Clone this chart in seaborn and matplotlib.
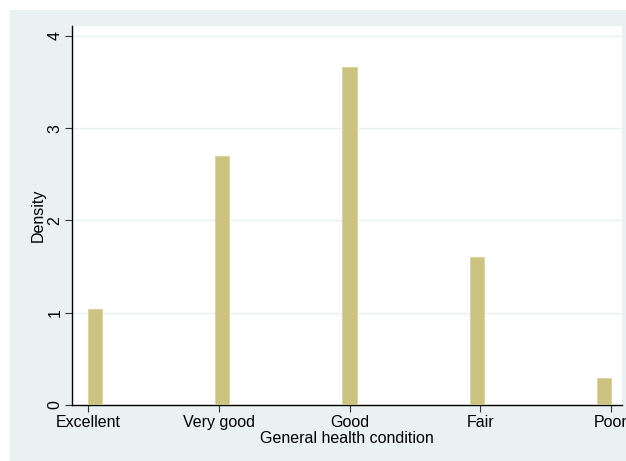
import matplotlib
matplotlib.use("Agg")
import matplotlib.pyplot as plt
import seaborn as sns
import numpy as np
import pandas as pd
from matplotlib.patches import Rectangle

# Health condition categories (coded 1..5) and histogram densities
categories = ["Excellent", "Very good", "Good", "Fair", "Poor"]
codes = [1, 2, 3, 4, 5]
density = [1.04, 2.70, 3.66, 1.60, 0.29]
y_ticks = [0, 1, 2, 3, 4]

df = pd.DataFrame({"health": codes, "density": density})

sns.set_theme(style="white")
plt.rcParams["font.family"] = ["Liberation Sans", "DejaVu Sans"]
plt.rcParams["text.color"] = "black"
plt.rcParams["axes.labelcolor"] = "black"
plt.rcParams["xtick.color"] = "black"
plt.rcParams["ytick.color"] = "black"

bg = "#EAF1F3"
fig = plt.figure(figsize=(6.26, 4.61), dpi=100)
fig.patch.set_facecolor("white")
fig.patches.append(Rectangle((10 / 626, 0), 1 - 10 / 626, 1 - 10 / 461,
                             transform=fig.transFigure, facecolor=bg,
                             edgecolor="none", zorder=-10))

ax = fig.add_axes([72 / 626, (461 - 405) / 461, (622 - 72) / 626, (405 - 26) / 461])
ax.set_zorder(5)
ax.set_facecolor("white")

sns.histplot(data=df, x="health", weights="density", bins=37, binrange=(1, 5),
             stat="count", color="#CCC281", edgecolor="#DAD5A6", linewidth=0.8,
             alpha=1, ax=ax, zorder=3)

ax.set_xlim(1 - 16 / 130.5, 5 + 11 / 130.5)
ax.set_ylim(0, 4.108)
ax.set_xticks(codes)
ax.set_xticklabels(categories, fontsize=11.5)
ax.set_yticks(y_ticks)
ax.set_yticklabels([str(t) for t in y_ticks], fontsize=11.5, rotation=90, va="center")

ax.yaxis.grid(True, color=bg, linewidth=1.0, zorder=0)
ax.xaxis.grid(False)
for s in ["top", "right"]:
    ax.spines[s].set_visible(False)
for s in ["left", "bottom"]:
    ax.spines[s].set_color("black")
    ax.spines[s].set_linewidth(1.0)

ax.tick_params(axis="both", which="both", direction="out", length=5, width=0.8,
               color="#333333", bottom=True, left=True, pad=2)

ax.set_xlabel("General health condition", fontsize=11.5, labelpad=1)
ax.set_ylabel("Density", fontsize=11.5, labelpad=1)

fig.savefig("out.png", dpi=100, facecolor=fig.get_facecolor())
